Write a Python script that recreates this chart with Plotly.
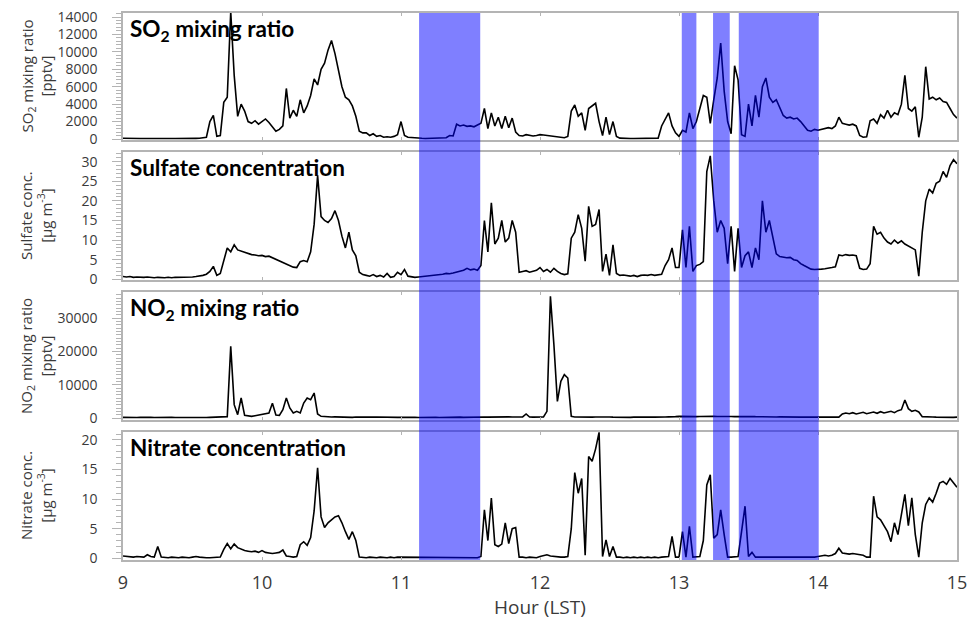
import plotly.graph_objects as go
from plotly.subplots import make_subplots

# time grid (hours LST), 1.5-min spacing
hours = [round(9 + 0.025 * i, 3) for i in range(241)]

so2 = [
    80, 60, 50, 70, 60, 50, 60, 70, 50, 60,
    50, 60, 40, 50, 60, 50, 40, 50, 60, 50,
    50, 70, 80, 120, 200, 2000, 2700, 300, 400, 4200,
    4800, 14600, 7300, 2600, 4000, 3200, 2000, 1800, 2100, 1700,
    2000, 2300, 1900, 1400, 900, 1100, 1500, 5800, 2400, 3300,
    2600, 4500, 3000, 3800, 5000, 6900, 6200, 8000, 8700, 10200,
    11300, 9800, 8000, 6000, 4800, 4500, 3800, 2600, 900, 700,
    700, 400, 600, 300, 400, 200, 250, 200, 300, 500,
    2000, 400, 200, 150, 100, 100, 80, 60, 80, 60,
    60, 80, 100, 150, 400, 350, 1700, 1500, 1600, 1450,
    1500, 1400, 1600, 1800, 3500, 1200, 3000, 1500, 2500, 1200,
    2600, 1300, 2400, 800, 400, 350, 500, 400, 350, 400,
    500, 450, 400, 350, 300, 250, 200, 150, 300, 3200,
    3900, 2600, 3000, 1000, 3500, 3800, 4100, 2000, 400, 2500,
    500, 2000, 300, 100, 60, 50, 50, 50, 50, 50,
    50, 60, 60, 80, 100, 1500, 2200, 3000, 1500, 700,
    300, 1000, 800, 3000, 1200, 2000, 3500, 5000, 4800, 1800,
    4500, 7000, 11000, 5500, 2000, 600, 8400, 6800, 500, 300,
    4000, 1500, 5000, 2500, 6000, 7000, 4800, 4200, 4500, 3500,
    2700, 2400, 2500, 2300, 2400, 2000, 1500, 1000, 900, 1100,
    1000, 1100, 1200, 1300, 1200, 1500, 2500, 1800, 1700, 1600,
    1700, 1500, 400, 200, 250, 2100, 2300, 1800, 2800, 2400,
    3300, 2500, 3000, 2800, 4000, 7300, 3500, 3200, 3700, 200,
    2500, 8300, 4600, 4800, 4500, 4700, 4300, 4200, 3500, 2800,
    2400,
]

sulfate = [
    0.7, 0.6, 0.7, 0.5, 0.6, 0.5, 0.5, 0.6, 0.5, 0.4,
    0.5, 0.4, 0.4, 0.5, 0.4, 0.5, 0.5, 0.6, 0.5, 0.6,
    0.6, 0.7, 0.8, 1.0, 1.3, 2.0, 3.3, 1.0, 1.5, 4.5,
    8.0, 7.0, 8.8, 7.5, 7.2, 6.8, 6.6, 6.3, 6.2, 6.0,
    6.1, 5.8, 5.9, 5.5, 5.0, 4.6, 4.2, 3.8, 3.4, 3.1,
    3.0, 4.5, 4.8, 4.5, 7.0, 14.0, 26.5, 16.0, 15.0, 14.5,
    15.5, 17.5, 15.0, 11.0, 8.0, 12.0, 7.5, 6.0, 1.8, 1.2,
    1.0, 0.8, 1.2, 0.7, 1.0, 0.6, 1.5, 0.5, 0.7, 1.8,
    1.2, 2.5, 0.8, 0.6, 0.5, 0.6, 0.7, 0.8, 0.9, 1.0,
    1.0, 1.2, 1.3, 1.5, 1.4, 1.6, 1.8, 2.0, 2.3, 2.8,
    2.4, 2.6, 2.3, 3.5, 15.0, 7.0, 19.5, 9.0, 10.5, 15.0,
    9.5, 10.5, 15.0, 12.0, 1.8, 2.0, 2.2, 1.8, 2.0, 2.3,
    3.0, 2.0, 2.5, 1.8, 2.8, 2.0, 1.5, 1.2, 1.4, 10.5,
    12.0, 16.5, 13.0, 4.6, 18.6, 13.5, 14.0, 17.8, 2.0, 6.4,
    1.0, 8.8, 1.5, 1.0, 1.1, 0.9, 0.8, 1.0, 0.7, 1.0,
    1.1, 1.0, 1.2, 1.0, 1.2, 1.3, 3.5, 5.0, 8.0, 3.0,
    3.0, 12.6, 3.0, 13.5, 2.0, 3.5, 3.8, 4.5, 27.5, 31.5,
    20.0, 12.0, 15.0, 13.0, 4.0, 13.5, 2.0, 13.0, 3.0, 6.0,
    7.0, 3.0, 8.0, 5.0, 20.0, 12.0, 15.0, 11.0, 6.5, 5.8,
    5.7, 5.5, 5.6, 5.0, 4.8, 4.0, 3.5, 3.0, 2.6, 2.5,
    2.5, 2.6, 2.7, 2.8, 3.0, 3.2, 6.2, 6.0, 6.3, 6.1,
    6.2, 6.0, 2.8, 2.5, 2.6, 4.0, 13.5, 11.5, 12.0, 10.5,
    9.5, 9.0, 10.0, 9.2, 9.8, 9.0, 8.5, 8.0, 7.5, 0.8,
    12.0, 20.0, 23.0, 22.0, 24.5, 25.0, 27.5, 26.0, 29.0, 30.5,
    29.5,
]

no2 = [
    200, 150, 250, 200, 150, 200, 250, 150, 200, 150,
    200, 150, 100, 150, 200, 150, 100, 150, 100, 150,
    150, 100, 150, 200, 150, 200, 250, 200, 150, 200,
    400, 21500, 4000, 1000, 6000, 800, 600, 500, 700, 900,
    900, 1200, 1500, 4400, 900, 800, 2500, 6000, 3000, 1500,
    2000, 1500, 4500, 6000, 5500, 7500, 1200, 500, 400, 300,
    300, 350, 300, 250, 300, 250, 200, 300, 250, 200,
    250, 200, 250, 300, 250, 200, 250, 200, 150, 200,
    200, 250, 200, 150, 200, 150, 200, 250, 200, 150,
    200, 150, 200, 250, 200, 150, 200, 250, 200, 250,
    300, 250, 300, 350, 300, 250, 300, 350, 300, 250,
    300, 350, 300, 250, 300, 350, 1200, 300, 250, 300,
    300, 300, 2000, 36500, 22000, 5000, 11000, 13000, 12000, 500,
    300, 250, 300, 350, 300, 250, 300, 350, 300, 250,
    300, 250, 200, 250, 300, 250, 200, 250, 300, 250,
    200, 250, 300, 250, 200, 250, 300, 350, 300, 400,
    500, 450, 400, 500, 450, 400, 450, 500, 600, 500,
    500, 450, 500, 550, 500, 450, 400, 450, 500, 450,
    400, 450, 400, 350, 400, 350, 400, 350, 300, 350,
    300, 350, 300, 250, 300, 250, 300, 250, 300, 250,
    250, 300, 250, 200, 250, 300, 250, 1200, 1500, 1300,
    1600, 1200, 1400, 1700, 1300, 1500, 1800, 1400, 1900, 1500,
    1700, 2000, 1600, 2200, 2500, 5400, 2800, 2000, 2300, 1800,
    400, 300, 250, 300, 250, 200, 250, 300, 250, 200,
    250,
]

nitrate = [
    0.4, 0.3, 0.3, 0.2, 0.3, 0.3, 0.2, 0.6, 0.3, 0.2,
    2.0, 0.2, 0.1, 0.1, 0.2, 0.1, 0.1, 0.2, 0.1, 0.1,
    0.2, 0.3, 0.2, 0.1, 0.1, 0.1, 0.1, 0.1, 0.2, 1.5,
    2.5, 1.6, 2.4, 1.8, 1.5, 1.3, 1.2, 1.1, 1.2, 1.0,
    1.3, 1.0, 0.9, 0.8, 0.9, 1.0, 1.4, 0.4, 0.3, 0.2,
    0.3, 2.3, 2.8, 2.2, 3.5, 8.0, 15.3, 7.0, 5.2, 6.0,
    6.5, 7.0, 7.2, 6.0, 4.5, 3.2, 4.5, 3.0, 0.2, 0.1,
    0.1, 0.2, 0.1, 0.1, 0.2, 0.1, 0.1, 0.2, 0.1, 0.2,
    0.2, 0.1, 0.1, 0.2, 0.1, 0.1, 0.1, 0.2, 0.1, 0.1,
    0.1, 0.1, 0.2, 0.1, 0.1, 0.2, 0.1, 0.2, 0.1, 0.2,
    0.2, 0.2, 0.1, 0.3, 8.2, 3.0, 10.2, 2.3, 2.0, 2.4,
    6.0, 2.5, 5.0, 5.2, 0.2, 0.2, 0.1, 0.2, 0.2, 0.1,
    0.3, 0.4, 0.6, 0.4, 0.3, 0.3, 0.2, 0.2, 0.3, 5.0,
    14.5, 11.0, 13.5, 0.5, 17.2, 16.4, 18.5, 21.3, 0.3, 3.1,
    0.3, 2.0, 0.2, 0.2, 0.1, 0.2, 0.1, 0.2, 0.1, 0.2,
    0.1, 0.2, 0.1, 0.2, 0.1, 0.2, 0.2, 0.3, 3.7, 0.2,
    0.2, 4.5, 0.2, 5.4, 0.2, 0.2, 0.3, 3.0, 12.4, 14.1,
    3.4, 4.0, 8.2, 4.0, 0.2, 0.2, 0.2, 0.3, 4.5, 8.8,
    0.3, 1.0, 0.2, 0.2, 0.1, 0.2, 0.1, 0.2, 0.1, 0.2,
    0.2, 0.1, 0.2, 0.1, 0.2, 0.1, 0.2, 0.1, 0.2, 0.2,
    0.3, 0.4, 0.5, 0.4, 0.5, 0.8, 1.7, 0.9, 0.8, 0.7,
    0.8, 0.7, 0.6, 0.5, 0.2, 0.2, 10.5, 7.0, 6.5, 5.5,
    4.5, 2.8, 6.0, 4.0, 7.1, 10.8, 5.5, 10.2, 4.0, 0.2,
    6.0, 9.1, 10.2, 9.5, 11.0, 12.7, 13.0, 12.5, 13.5, 12.8,
    12.0,
]

band_start = [11.13, 13.02, 13.245, 13.43]
band_end = [11.57, 13.125, 13.365, 14.005]

panel_titles = ["SO<sub>2</sub> mixing ratio", "Sulfate concentration",
                "NO<sub>2</sub> mixing ratio", "Nitrate concentration"]
y_titles = ["SO<sub>2</sub> mixing ratio<br>[pptv]",
            "Sulfate conc.<br>[µg m<sup>-3</sup>]",
            "NO<sub>2</sub> mixing ratio<br>[pptv]",
            "Nitrate conc.<br>[µg m<sup>-3</sup>]"]
x_ticks = [9, 10, 11, 12, 13, 14, 15]

series = [so2, sulfate, no2, nitrate]
y_ranges = [[-115, 14460], [-0.18, 32.47], [-600, 37800], [-0.29, 21.35]]
y_dticks = [2000, 5, 10000, 5]
y_minor = [400, 1, 1000, 1]

W, H = 970, 623
ML, MR, MT, MB = 123, 13, 13, 63
panel_px = [(13, 140), (152, 280), (292, 420), (432, 560)]
ph = H - MT - MB

fig = make_subplots(rows=4, cols=1, shared_xaxes=True)

FRAME = "#b4b4b4"
TXT = "#3a3a3a"
FONT = "Open Sans, Lato, sans-serif"

for i, vals in enumerate(series):
    fig.add_trace(go.Scatter(x=hours, y=vals, mode="lines",
                             line=dict(color="black", width=1.6),
                             showlegend=False, hoverinfo="skip"),
                  row=i + 1, col=1)

for i in range(4):
    top, bot = panel_px[i]
    dom = [(H - MB - bot) / ph, (H - MB - top) / ph]
    ykey = "yaxis" if i == 0 else f"yaxis{i + 1}"
    xkey = "xaxis" if i == 0 else f"xaxis{i + 1}"
    fig.layout[ykey].update(
        domain=dom, range=y_ranges[i], dtick=y_dticks[i], tick0=0,
        tickformat="d", automargin=False,
        showgrid=False, zeroline=False, showline=True, linecolor=FRAME,
        linewidth=1.5, mirror=True, ticks="outside", ticklen=9, tickwidth=1,
        tickcolor=FRAME, ticklabelstandoff=12,
        minor=dict(dtick=y_minor[i], tick0=0, ticks="outside", ticklen=5,
                   tickcolor=FRAME, showgrid=False),
        tickfont=dict(family=FONT, size=14, color=TXT),
    )
    fig.layout[xkey].update(
        range=[9, 15], tickvals=x_ticks, automargin=False,
        showgrid=False, zeroline=False,
        showline=True, linecolor=FRAME, linewidth=1.5, mirror="allticks",
        ticks="inside", ticklen=3, tickcolor=FRAME,
        showticklabels=(i == 3), ticklabelstandoff=6,
        tickfont=dict(family=FONT, size=18, color=TXT),
    )
    yref = "y" if i == 0 else f"y{i + 1}"
    xref = "x" if i == 0 else f"x{i + 1}"
    fig.add_annotation(text="<b>" + panel_titles[i] + "</b>",
                       xref=xref + " domain", yref=yref + " domain",
                       x=0.006, y=1.0, xanchor="left", yanchor="top",
                       showarrow=False,
                       font=dict(family="Lato, Open Sans, sans-serif", size=22.5, color="black"))
    fig.add_annotation(text=y_titles[i], xref="paper", yref=yref + " domain",
                       x=(36 - ML) / (W - ML - MR), y=0.5, xanchor="center",
                       yanchor="middle", textangle=-90, showarrow=False,
                       font=dict(family=FONT, size=15, color=TXT))

for s, e in zip(band_start, band_end):
    fig.add_shape(type="rect", xref="x", yref="paper", x0=s, x1=e, y0=0, y1=1,
                  fillcolor="rgba(0,0,255,0.5)", line=dict(width=0),
                  layer="above")

fig.add_annotation(text="Hour (LST)", xref="paper", yref="paper",
                   x=0.5, y=(H - MB - 607) / ph, xanchor="center",
                   yanchor="middle", showarrow=False,
                   font=dict(family=FONT, size=19, color=TXT))

fig.update_layout(width=W, height=H, margin=dict(l=ML, r=MR, t=MT, b=MB, autoexpand=False),
                  paper_bgcolor="white", plot_bgcolor="white")

fig.write_html("out.html")
